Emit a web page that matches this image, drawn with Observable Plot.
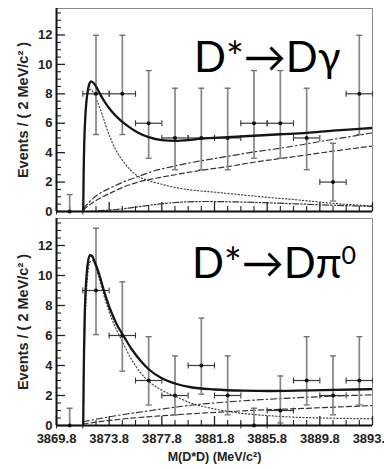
<!DOCTYPE html>
<html>
<head>
<meta charset="utf-8">
<script src="https://cdn.jsdelivr.net/npm/d3@7"></script>
<script src="https://cdn.jsdelivr.net/npm/@observablehq/plot@0.6"></script>
<style>
  html, body { margin: 0; padding: 0; background: #fff; }
  #chart { position: relative; width: 384px; height: 469px; overflow: hidden; }
  #chart svg { position: absolute; left: 0; }
  .ann { position: absolute; font-family: Lato, "Open Sans", sans-serif; font-size: 42px; line-height: 1; color: #000; white-space: nowrap; }
  .ann sup { font-size: 25px; vertical-align: 14px; line-height: 0; }
</style>
</head>
<body>
<div id="chart"></div>
<script>
// Bins of M(D*D), 2 MeV/c^2 wide
const binCenters = [3870.8, 3872.8, 3874.8, 3876.8, 3878.8, 3880.8, 3882.8, 3884.8, 3886.8, 3888.8, 3890.8, 3892.8];
const binHalfWidth = 1;

// D* -> D gamma: events per bin and asymmetric Poisson error band
const gammaCounts  = [0, 8, 8, 6, 5, 5, 5, 6, 6, 5, 2, 8];
const gammaErrLow  = [0, 5.23, 5.23, 3.62, 2.84, 2.84, 2.84, 3.62, 3.62, 2.84, 0.71, 5.23];
const gammaErrHigh = [1.15, 11.98, 11.98, 9.58, 8.38, 8.38, 8.38, 9.58, 9.58, 8.38, 4.64, 11.98];

// D* -> D pi0
const pi0Counts  = [0, 9, 6, 3, 2, 4, 2, 0, 1, 3, 2, 3];
const pi0ErrLow  = [0, 6.06, 3.62, 1.37, 0.71, 2.09, 0.71, 0, 0.17, 1.37, 0.71, 1.37];
const pi0ErrHigh = [1.15, 13.15, 9.58, 5.92, 4.64, 7.16, 4.64, 1.15, 3.30, 5.92, 4.64, 5.92];

// Fit curves, [mass, events]
const gammaTotal = [[3871.83,0],[3871.86,2.5],[3871.92,5.0],[3872.0,6.6],[3872.1,7.7],[3872.2,8.35],[3872.3,8.7],[3872.42,8.85],[3872.6,8.75],[3872.8,8.5],[3873.1,8.0],[3873.5,7.4],[3874.0,6.8],[3874.6,6.25],[3875.3,5.75],[3876.0,5.35],[3876.8,5.05],[3877.8,4.85],[3878.8,4.8],[3879.8,4.85],[3880.8,4.95],[3882.8,5.05],[3884.8,5.15],[3886.8,5.25],[3888.8,5.35],[3890.8,5.5],[3892.8,5.62],[3893.8,5.68]];
const gammaSignal = [[3871.83,0],[3871.88,3.5],[3871.95,6.0],[3872.05,7.4],[3872.2,8.1],[3872.4,8.3],[3872.6,8.1],[3872.9,7.5],[3873.3,6.5],[3873.8,5.2],[3874.3,4.2],[3875.0,3.25],[3875.9,2.45],[3876.8,2.1],[3877.8,1.85],[3879.0,1.6],[3880.5,1.42],[3882.0,1.3],[3884.0,1.12],[3886.0,0.95],[3888.0,0.8],[3890.0,0.62],[3892.0,0.48],[3893.8,0.38]];
const gammaBkgDashed = [[3871.83,0.1],[3872.3,0.45],[3873.0,0.85],[3874.0,1.3],[3875.0,1.7],[3876.0,2.0],[3877.0,2.2],[3878.8,2.5],[3880.8,2.8],[3882.8,3.05],[3884.8,3.35],[3886.8,3.6],[3888.8,3.85],[3890.8,4.1],[3893.8,4.45]];
const gammaBkgDashDot = [[3871.83,0.2],[3872.8,1.05],[3874.0,1.65],[3875.0,2.05],[3875.9,2.35],[3877.0,2.7],[3878.8,3.1],[3880.8,3.45],[3882.8,3.75],[3884.8,4.05],[3886.8,4.3],[3888.8,4.6],[3890.8,4.9],[3893.8,5.35]];
const gammaBkgSmall = [[3871.83,0],[3873.0,0.05],[3874.5,0.15],[3876.0,0.32],[3877.5,0.5],[3879.0,0.62],[3881.0,0.68],[3883.0,0.66],[3885.5,0.6],[3888.0,0.52],[3891.0,0.42],[3893.8,0.35]];

const pi0Total = [[3871.83,0],[3871.86,3.0],[3871.92,6.5],[3872.0,8.8],[3872.1,10.2],[3872.2,10.95],[3872.35,11.35],[3872.5,11.3],[3872.7,10.9],[3873.0,10.2],[3873.4,9.0],[3873.9,7.7],[3874.4,6.7],[3874.8,6.1],[3875.5,5.1],[3876.2,4.3],[3876.8,3.75],[3877.8,3.15],[3878.8,2.8],[3880.0,2.55],[3881.8,2.4],[3884.0,2.32],[3886.0,2.3],[3888.0,2.32],[3890.0,2.36],[3893.8,2.42]];
const pi0Signal = [[3871.83,0],[3871.9,4.0],[3872.0,7.5],[3872.15,9.8],[3872.35,10.9],[3872.55,11.0],[3872.8,10.5],[3873.1,9.6],[3873.5,8.4],[3874.0,7.1],[3874.8,5.6],[3875.5,4.4],[3876.2,3.5],[3876.8,2.95],[3877.8,2.35],[3878.8,1.95],[3880.0,1.5],[3881.8,1.1],[3884.0,0.8],[3886.0,0.65],[3888.0,0.55],[3890.0,0.5],[3893.8,0.45]];
const pi0BkgDashed = [[3871.83,0.1],[3873.0,0.25],[3875.0,0.45],[3877.0,0.6],[3880.0,0.78],[3884.0,0.98],[3888.0,1.12],[3893.8,1.33]];
const pi0BkgDashDot = [[3871.83,0.25],[3873.0,0.45],[3875.0,0.75],[3877.0,1.0],[3880.0,1.35],[3884.0,1.65],[3888.0,1.85],[3893.8,2.05]];

// Axes
const xDomain = [3869.8, 3893.8];
const yDomain = [0, 13.8];
const xLabelTicks = [3869.8, 3873.8, 3877.8, 3881.8, 3885.8, 3889.8, 3893.8];
const xMinorTicks = d3.range(3870.8, 3893.8, 1);
const yLabelTicks = [0, 2, 4, 6, 8, 10, 12];
const yMinorTicks = d3.range(0.5, 13.6, 0.5);
const yTitle = "Events / ( 2 MeV/c\u00B2 )";
const xTitle = "M(D*D) (MeV/c\u00B2)";

const W = 384, ML = 56, MR = 12;
const frameW = W - ML - MR;

// Short horizontal / vertical stroke used for error-bar end caps
const hCap = { draw(ctx) { ctx.moveTo(-3, 0); ctx.lineTo(3, 0); } };
const vCap = { draw(ctx) { ctx.moveTo(0, -3); ctx.lineTo(0, 3); } };

function panel({counts, errLow, errHigh, total, components, height, marginTop, marginBottom, showX}) {
  const frameH = height - marginTop - marginBottom;
  const bins = binCenters.map((x, i) => ({x, n: counts[i], lo: errLow[i], hi: errHigh[i]}));
  const xy = {x: d => d[0], y: d => d[1]};
  const marks = [
    Plot.frame({stroke: "#8c8c8c", strokeWidth: 1}),
    // inward ticks
    Plot.tickY(yLabelTicks, {y: d => d, insetRight: frameW - 9, stroke: "#222", strokeWidth: 1.3}),
    Plot.tickY(yMinorTicks.filter(v => v % 2 !== 0), {y: d => d, insetRight: frameW - 5, stroke: "#222", strokeWidth: 1.1}),
    Plot.tickX(xLabelTicks, {x: d => d, insetTop: frameH - 9, stroke: "#222", strokeWidth: 1.3}),
    Plot.tickX(xMinorTicks.filter(v => !xLabelTicks.some(t => Math.abs(t - v) < 1e-6)), {x: d => d, insetTop: frameH - 5, stroke: "#222", strokeWidth: 1.1}),
    Plot.axisY(yLabelTicks, {tickSize: 0, tickPadding: 4, fontSize: 13, fontWeight: "bold", label: null}),
    Plot.text([yTitle], {text: d => d, frameAnchor: "left", textAnchor: "middle", rotate: -90, dx: -33, fontSize: 14.5, fontWeight: "bold"}),
    // fit components
    ...components.map(c => Plot.line(c.data, {...xy, curve: "monotone-x", stroke: c.stroke, strokeWidth: c.width, strokeDasharray: c.dash, clip: true})),
    // data points with error bars
    Plot.ruleX(bins, {x: "x", y1: "lo", y2: "hi", stroke: "#858585", strokeWidth: 1.7}),
    Plot.dot(bins, {x: "x", y: "hi", symbol: hCap, fill: "none", stroke: "#6e6e6e", strokeWidth: 1.3}),
    Plot.dot(bins, {x: "x", y: "lo", symbol: hCap, fill: "none", stroke: "#6e6e6e", strokeWidth: 1.3}),
    Plot.ruleY(bins, {y: "n", x1: d => d.x - binHalfWidth, x2: d => d.x + binHalfWidth, stroke: "#3a3a3a", strokeWidth: 1.2}),
    Plot.dot(bins, {x: d => d.x - binHalfWidth, y: "n", symbol: vCap, fill: "none", stroke: "#3a3a3a", strokeWidth: 1.1}),
    Plot.dot(bins, {x: d => d.x + binHalfWidth, y: "n", symbol: vCap, fill: "none", stroke: "#3a3a3a", strokeWidth: 1.1}),
    Plot.dot(bins, {x: "x", y: "n", r: 2, fill: "#111", stroke: "none"}),
    // total fit
    Plot.line(total, {...xy, curve: "monotone-x", stroke: "#151515", strokeWidth: 2.3, clip: true}),
    // axis lines
    Plot.ruleX([xDomain[0]], {stroke: "#111", strokeWidth: 2}),
    Plot.ruleY([0], {stroke: "#111", strokeWidth: 2})
  ];
  if (showX) {
    marks.push(Plot.axisX(xLabelTicks, {tickSize: 0, tickPadding: 8, fontSize: 13, fontWeight: "bold", label: null, tickFormat: d => d.toFixed(1)}));
    marks.push(Plot.text([xTitle], {text: d => d, frameAnchor: "bottom", dy: 35, fontSize: 12.5, fontWeight: "bold"}));
  }
  return Plot.plot({
    width: W, height, marginLeft: ML, marginRight: MR, marginTop, marginBottom,
    x: {domain: xDomain, axis: null},
    y: {domain: yDomain, axis: null},
    style: {fontFamily: "'Liberation Sans', Arial, sans-serif", color: "#222", background: "transparent", overflow: "visible"},
    marks
  });
}

const compStyles = {
  signal:  {stroke: "#444", width: 1.2, dash: "1.2,2.2"},
  dashed:  {stroke: "#333", width: 1.2, dash: "5,3"},
  dashdot: {stroke: "#333", width: 1.2, dash: "6,3,1.5,3"},
  small:   {stroke: "#333", width: 1.2, dash: "6,2,1.5,2,1.5,2"}
};

const gammaPanel = panel({
  counts: gammaCounts, errLow: gammaErrLow, errHigh: gammaErrHigh,
  total: gammaTotal,
  components: [
    {data: gammaSignal, ...compStyles.signal},
    {data: gammaBkgDashed, ...compStyles.dashed},
    {data: gammaBkgDashDot, ...compStyles.dashdot},
    {data: gammaBkgSmall, ...compStyles.small}
  ],
  height: 212, marginTop: 8, marginBottom: 1, showX: false
});
const pi0Panel = panel({
  counts: pi0Counts, errLow: pi0ErrLow, errHigh: pi0ErrHigh,
  total: pi0Total,
  components: [
    {data: pi0Signal, ...compStyles.signal},
    {data: pi0BkgDashed, ...compStyles.dashed},
    {data: pi0BkgDashDot, ...compStyles.dashdot}
  ],
  height: 257, marginTop: 6, marginBottom: 44, showX: true
});

const chart = document.getElementById("chart");
gammaPanel.style.top = "0px";
pi0Panel.style.top = "212px";
chart.append(gammaPanel, pi0Panel);

// Decay-channel labels
const gammaLabel = document.createElement("div");
gammaLabel.className = "ann";
gammaLabel.style.left = "194px"; gammaLabel.style.top = "35px";
gammaLabel.textContent = "D*\u2192D\u03B3";
const pi0Label = document.createElement("div");
pi0Label.className = "ann";
pi0Label.style.left = "192px"; pi0Label.style.top = "241px";
pi0Label.innerHTML = "D*\u2192D\u03C0<sup>0</sup>";
chart.append(gammaLabel, pi0Label);
</script>
</body>
</html>
